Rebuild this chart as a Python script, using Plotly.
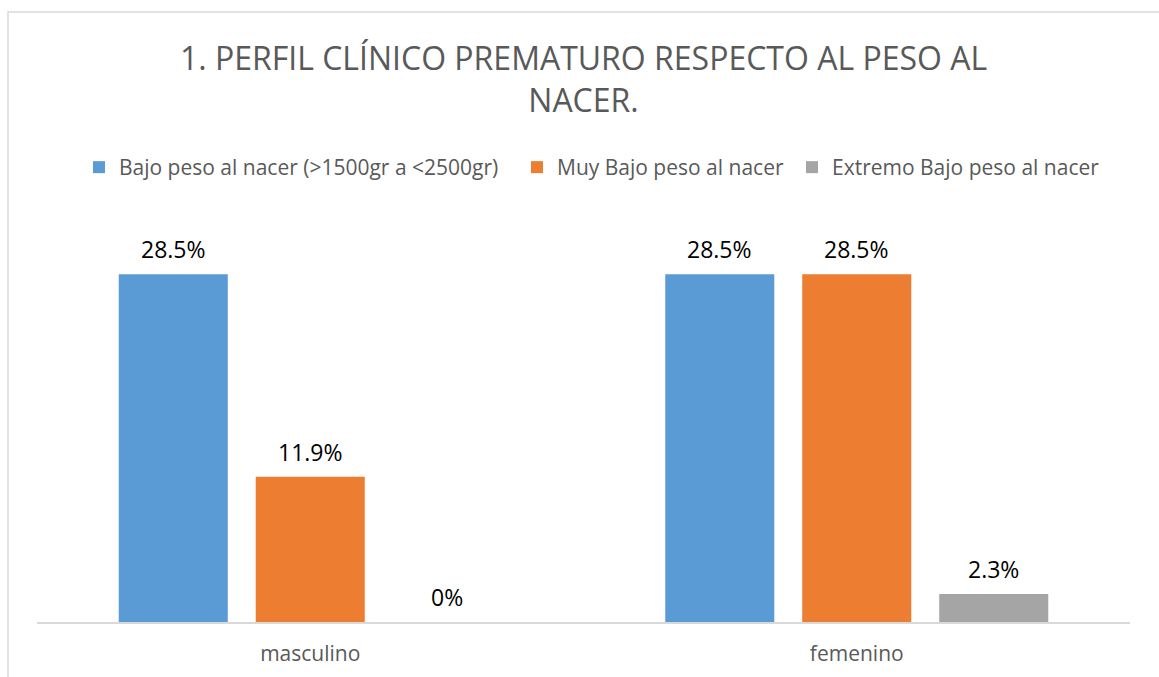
import plotly.graph_objects as go

categories = ["masculino", "femenino"]
series_names = [
    "Bajo peso al nacer (>1500gr a <2500gr)",
    "Muy Bajo peso al nacer",
    "Extremo Bajo peso al nacer",
]
bajo = [28.5, 28.5]
muy_bajo = [11.9, 28.5]
extremo = [0, 2.3]
labels = [["28.5%", "28.5%"], ["11.9%", "28.5%"], ["0%", "2.3%"]]
colors = ["#5B9BD5", "#ED7D31", "#A5A5A5"]
title_text = "1. PERFIL CLÍNICO PREMATURO RESPECTO AL PESO AL<br>NACER."

series = [bajo, muy_bajo, extremo]
FONT = "Open Sans"
legend_ids = ["legend", "legend2", "legend3"]
legend_left_px = [93 - 14, 531 - 14, 806 - 14]

fig = go.Figure()
for name, vals, col, lid in zip(series_names, series, colors, legend_ids):
    fig.add_trace(go.Bar(name=name, x=categories, y=vals, marker_color=col,
                         marker_line_width=0, legend=lid, showlegend=True))

annotations = []
for i, (vals, labs) in enumerate(zip(series, labels)):
    for cat, v, lab in zip(categories, vals, labs):
        annotations.append(dict(
            x=cat, y=v, xref="x", yref="y", text=lab, showarrow=False,
            xshift=(i - 1) * 137, yshift=7, yanchor="bottom",
            font=dict(family=FONT, size=23, color="#000000")))

legend_common = dict(orientation="h", xanchor="left", xref="container",
                     y=1 - 147 / 677, yanchor="top", yref="container",
                     font=dict(family=FONT, size=21, color="#595959"),
                     itemclick=False, bgcolor="rgba(0,0,0,0)", borderwidth=0)

fig.update_layout(
    width=1159, height=677,
    showlegend=True,
    margin=dict(l=37, r=29, t=195, b=55, autoexpand=False),
    paper_bgcolor="white", plot_bgcolor="white",
    barmode="group", bargap=0.248, bargroupgap=0.204,
    title=dict(text=title_text, x=0.5, xanchor="center", xref="paper",
               y=1 - 70 / 677, yanchor="top", yref="container",
               font=dict(family=FONT, size=32, color="#595959")),
    legend=dict(x=legend_left_px[0] / 1159, **legend_common),
    legend2=dict(x=legend_left_px[1] / 1159, **legend_common),
    legend3=dict(x=legend_left_px[2] / 1159, **legend_common),
    xaxis=dict(showline=True, linecolor="#D9D9D9", linewidth=2,
               showgrid=False, ticks="", ticklabelstandoff=12,
               tickfont=dict(family=FONT, size=21, color="#595959")),
    yaxis=dict(range=[0, 35], visible=False, showgrid=False),
    annotations=annotations,
    shapes=[dict(type="rect", xref="paper", yref="paper",
                 x0=(8 - 37) / 1093, x1=1.2, y0=-0.5, y1=(622 - 12) / 427,
                 line=dict(color="#D9D9D9", width=1.5), fillcolor="rgba(0,0,0,0)",
                 layer="below")],
)

fig.write_html("out.html", config={"displayModeBar": False},
               post_script="document.body.style.margin='0';")
